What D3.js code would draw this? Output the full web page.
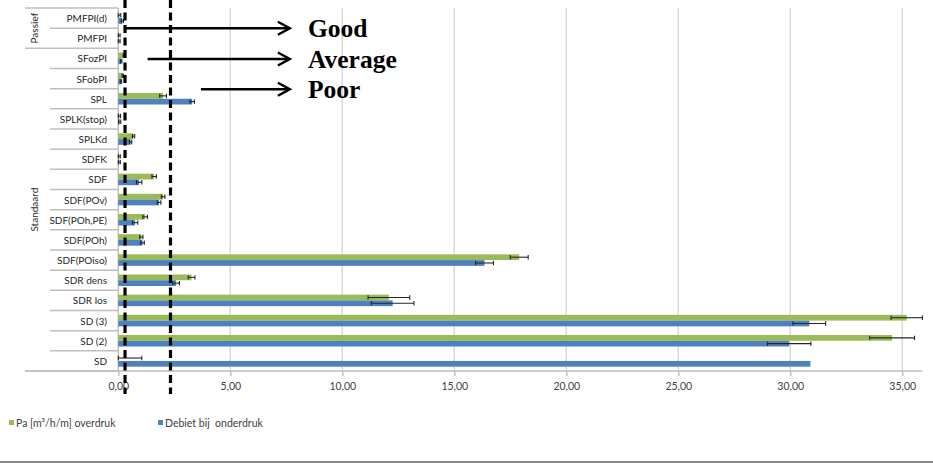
<!DOCTYPE html>
<html>
<head>
<meta charset="utf-8">
<script src="https://cdn.jsdelivr.net/npm/d3@7/dist/d3.min.js"></script>
<style>
  html, body { margin: 0; padding: 0; background: #fff; }
  svg { display: block; }
  .sans { font-family: Lato, "Open Sans", sans-serif; }
  .serif { font-family: "Liberation Serif", "Times New Roman", serif; font-weight: bold; }
</style>
</head>
<body>
<svg id="chart" width="933" height="464"></svg>
<script>
// Categories, top to bottom
const categories = ["PMFPI(d)", "PMFPI", "SFozPI", "SFobPI", "SPL", "SPLK(stop)", "SPLKd", "SDFK",
  "SDF", "SDF(POv)", "SDF(POh,PE)", "SDF(POh)", "SDF(POiso)", "SDR dens", "SDR los", "SD (3)", "SD (2)", "SD"];

// Pa [m³/h/m] overdruk
const overdruk    = [0.05, 0.03, 0.25, 0.2, 2.0, 0.05, 0.68, 0.04, 1.6, 2.0, 1.2, 1.03, 17.9, 3.27, 12.08, 35.2, 34.55, 0];
const overdrukErr = [0.06, 0.05, 0.03, 0.03, 0.15, 0.05, 0.05, 0.05, 0.1, 0.08, 0.1, 0.07, 0.4, 0.15, 0.93, 0.7, 1.0, 1.05];

// Debiet bij onderdruk
const onderdruk    = [0.18, 0.03, 0.13, 0.12, 3.3, 0.06, 0.55, 0.04, 0.93, 1.82, 0.75, 1.08, 16.35, 2.58, 12.25, 30.85, 29.95, 30.9];
const onderdrukErr = [0.05, 0.05, 0.03, 0.03, 0.1, 0.05, 0.05, 0.05, 0.12, 0.08, 0.12, 0.08, 0.4, 0.15, 0.95, 0.73, 0.97, 0];

const seriesNames = ["Pa [m³/h/m] overdruk", "Debiet bij  onderdruk"];
const seriesColors = ["#9bbb59", "#4f81bd"];

// Category groups (first/last index)
const groups = [
  { name: "Passief", from: 0, to: 1 },
  { name: "Standaard", from: 2, to: 17 }
];

const tickValues = [0, 5, 10, 15, 20, 25, 30, 35];
const tickLabels = ["0,00", "5,00", "10,00", "15,00", "20,00", "25,00", "30,00", "35,00"];

// Quality thresholds (dashed lines) and annotation arrows
const thresholds = [0.3, 2.33];
const ratings = ["Good", "Average", "Poor"];
const ratingArrowStart = [0.3, 1.31, 3.69];
const ratingArrowEnd = 7.66;

const svg = d3.select("#chart");

const plotTop = 8, plotBottom = 371, plotLeft = 118.3;
const x = d3.scaleLinear().domain([0, 35.9]).range([plotLeft, 922.4]);
const y = d3.scaleBand().domain(categories).range([plotTop, plotBottom]).padding(0);
const sub = d3.scaleBand().domain([0, 1]).range([0, y.bandwidth()]).paddingInner(0).paddingOuter(0.75);

const gridColor = "#d9d9d9";
const axisColor = "#bfbfbf";

// vertical gridlines
svg.append("g").selectAll("line").data(tickValues.filter(d => d > 0)).join("line")
  .attr("x1", d => x(d)).attr("x2", d => x(d))
  .attr("y1", plotTop).attr("y2", plotBottom)
  .attr("stroke", gridColor).attr("stroke-width", 1.5);

// x axis
const xAxis = d3.axisBottom(x).tickValues(tickValues)
  .tickFormat((d, i) => tickLabels[i]).tickSize(5).tickSizeOuter(0);
const gx = svg.append("g").attr("transform", `translate(0,${plotBottom})`).call(xAxis);
gx.select(".domain").remove();
gx.selectAll(".tick line").attr("stroke", axisColor).attr("stroke-width", 1.5);
gx.selectAll(".tick text").attr("class", "sans").attr("fill", "#404040")
  .attr("dy", "1.05em").style("font-family", "Lato, sans-serif").style("font-size", "10.5px");
svg.append("line").attr("x1", 25).attr("x2", x.range()[1]).attr("y1", plotBottom).attr("y2", plotBottom)
  .attr("stroke", axisColor).attr("stroke-width", 1.5);

// category axis line
svg.append("line").attr("x1", plotLeft).attr("x2", plotLeft).attr("y1", plotTop).attr("y2", plotBottom)
  .attr("stroke", axisColor).attr("stroke-width", 1.5);

// category separators (wider at group boundaries)
const boundaries = d3.range(categories.length + 1);
const groupEdges = new Set([0, ...groups.map(g => g.to + 1)]);
svg.append("g").selectAll("line").data(boundaries).join("line")
  .attr("x1", i => groupEdges.has(i) ? 25 : 50).attr("x2", plotLeft)
  .attr("y1", i => i < categories.length ? y(categories[i]) : plotBottom)
  .attr("y2", i => i < categories.length ? y(categories[i]) : plotBottom)
  .attr("stroke", axisColor).attr("stroke-width", 1.5);

// category labels
svg.append("g").attr("class", "sans").selectAll("text").data(categories).join("text")
  .attr("x", 107).attr("y", d => y(d) + y.bandwidth() / 2)
  .attr("text-anchor", "end").attr("dominant-baseline", "central")
  .attr("font-size", 10).attr("fill", "#262626").text(d => d);

// group labels
svg.append("g").attr("class", "sans").selectAll("text").data(groups).join("text")
  .attr("transform", g => {
    const cy = (y(categories[g.from]) + y(categories[g.to]) + y.bandwidth()) / 2;
    return `translate(38,${cy}) rotate(-90)`;
  })
  .attr("text-anchor", "middle").attr("font-size", 10).attr("fill", "#262626").text(g => g.name);

// bars
const series = [
  { values: overdruk, err: overdrukErr },
  { values: onderdruk, err: onderdrukErr }
];
series.forEach((s, si) => {
  svg.append("g").selectAll("rect").data(categories).join("rect")
    .attr("x", x(0))
    .attr("y", c => y(c) + sub(si))
    .attr("width", (c, i) => x(s.values[i]) - x(0))
    .attr("height", sub.bandwidth())
    .attr("fill", seriesColors[si]);
});

// error bars
series.forEach((s, si) => {
  const g = svg.append("g").attr("stroke", "#262626").attr("stroke-width", 1.1);
  categories.forEach((c, i) => {
    const e = s.err[i];
    if (!e) return;
    const cy = y(c) + sub(si) + sub.bandwidth() / 2;
    const lo = Math.max(0, s.values[i] - e), hi = s.values[i] + e;
    g.append("line").attr("x1", x(lo)).attr("x2", x(hi)).attr("y1", cy).attr("y2", cy);
    [lo, hi].forEach(v => g.append("line").attr("x1", x(v)).attr("x2", x(v))
      .attr("y1", cy - 2.2).attr("y2", cy + 2.2));
  });
});

// threshold dashed lines
svg.append("g").selectAll("line").data(thresholds).join("line")
  .attr("x1", d => x(d)).attr("x2", d => x(d))
  .attr("y1", 0).attr("y2", 394)
  .attr("stroke", "#000").attr("stroke-width", 3.2).attr("stroke-dasharray", "8,4.5");

// rating arrows and labels
const ratingY = [28.3, 59, 89.3];
const ag = svg.append("g").attr("stroke", "#000").attr("stroke-width", 2.4).attr("fill", "none");
ratings.forEach((r, i) => {
  const x0 = x(ratingArrowStart[i]), x1 = x(ratingArrowEnd), yy = ratingY[i];
  ag.append("line").attr("x1", x0).attr("x2", x1 - 1).attr("y1", yy).attr("y2", yy);
  ag.append("path").attr("d", `M${x1 - 12},${yy - 6.5} L${x1},${yy} L${x1 - 12},${yy + 6.5}`);
});
svg.append("g").attr("class", "serif").selectAll("text").data(ratings).join("text")
  .attr("x", 308).attr("y", (d, i) => ratingY[i] + 8.5)
  .attr("font-size", 25.5).attr("fill", "#000")
  .text(d => d);

// legend
const lg = svg.append("g").attr("class", "sans");
const legendX = [9, 158];
seriesNames.forEach((n, i) => {
  lg.append("rect").attr("x", legendX[i]).attr("y", 420).attr("width", 5).attr("height", 5)
    .attr("fill", seriesColors[i]);
  lg.append("text").attr("x", legendX[i] + 7).attr("y", 423).attr("dominant-baseline", "central")
    .attr("font-size", 10.5).attr("fill", "#404040").style("white-space", "pre").text(n);
});

// chart frame bottom edge
svg.append("line").attr("x1", 0).attr("x2", 933).attr("y1", 462).attr("y2", 462)
  .attr("stroke", "#8c8c8c").attr("stroke-width", 2);
</script>
</body>
</html>
